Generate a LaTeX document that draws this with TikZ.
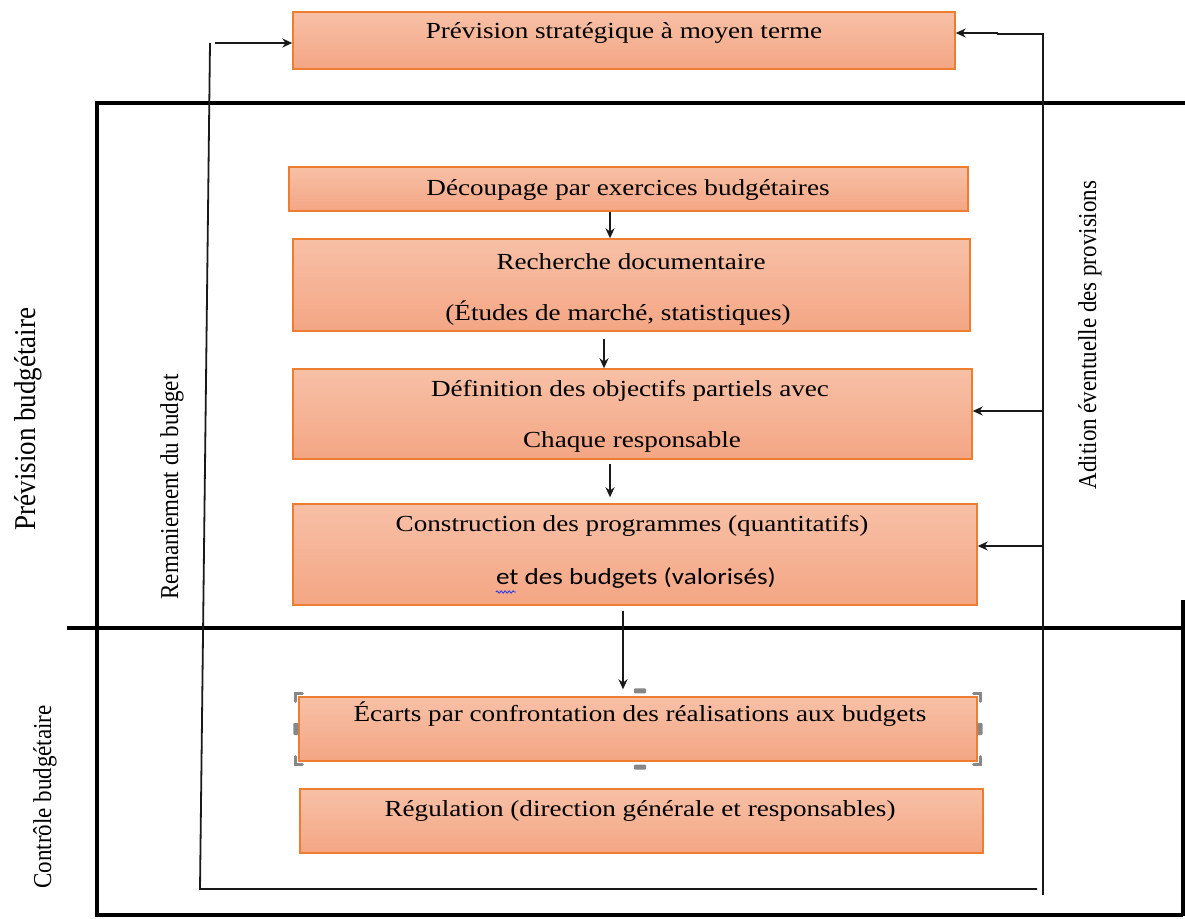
\documentclass[tikz,border=0pt]{standalone}
\usepackage{fontspec}
\setmainfont{Liberation Serif}
\newfontfamily\boxfont[FakeStretch=1.18]{Liberation Serif}
\newfontfamily\boxsans[FakeStretch=1.18]{Carlito}
\usetikzlibrary{arrows.meta,decorations.pathmorphing}
\definecolor{boxtop}{RGB}{247,192,166}
\definecolor{boxbot}{RGB}{244,166,132}
\definecolor{boxedge}{RGB}{237,125,49}
\definecolor{handlegray}{RGB}{135,135,135}
\definecolor{spellblue}{RGB}{40,60,230}

\begin{document}
\begin{tikzpicture}[x=1pt,y=-1pt,
  stagebox/.style={draw=boxedge, line width=1.4pt, top color=boxtop,
    bottom color=boxbot, inner sep=0pt},
  boxtext/.style={font=\boxfont\fontsize{23}{28}\selectfont, inner sep=0pt,
    anchor=base},
  sidetext/.style={font=\fontsize{23}{28}\selectfont, rotate=90, inner sep=0pt},
  frameline/.style={line width=4pt, black},
  link/.style={line width=1.8pt, black!90},
  flow/.style={link, -{Stealth[length=10pt,width=9pt]}},
  handle/.style={line width=3pt, handlegray, line cap=round},
  handlebar/.style={fill=handlegray, draw=none, rounded corners=1pt}
]
\useasboundingbox (0,0) rectangle (1185,918);

% frame of the two phases
\draw[frameline] (95,103) -- (1185,103);
\draw[frameline] (67,628) -- (1185,628);
\draw[frameline] (97,103) -- (97,916);
\draw[frameline] (95,915) -- (1183,915);
\draw[frameline] (1183,600) -- (1183,916);

% phase labels
\node[sidetext, font=\fontsize{27}{32}\selectfont] (lprev) at (28,419)
  {\scalebox{1}[1.12]{Prévision budgétaire}};
\node[sidetext] (lctrl) at (45,797) {\scalebox{1}[1.12]{Contrôle budgétaire}};
\node[sidetext] (lrem) at (172,487) {\scalebox{1}[1.12]{Remaniement du budget}};
\node[sidetext] (ladd) at (1090,335)
  {\scalebox{1}[1.12]{Adition éventuelle des provisions}};

% process steps
\node[stagebox, minimum width=662pt, minimum height=57pt] (top) at (624,40.5) {};
\node[boxtext] (topt) at (624,38) {Prévision stratégique à moyen terme};

\node[stagebox, minimum width=679pt, minimum height=44pt] (cut) at (628.5,189) {};
\node[boxtext] (cutt) at (628,195) {Découpage par exercices budgétaires};

\node[stagebox, minimum width=677pt, minimum height=92pt] (doc) at (631.5,285) {};
\node[boxtext] (doca) at (631,269) {Recherche documentaire};
\node[boxtext] (docb) at (618,320) {(Études de marché, statistiques)};

\node[stagebox, minimum width=679pt, minimum height=90pt] (goal) at (632.5,414) {};
\node[boxtext] (goala) at (630,396) {Définition des objectifs partiels avec};
\node[boxtext] (goalb) at (632,447) {Chaque responsable};

\node[stagebox, minimum width=684pt, minimum height=101pt] (prog) at (635,554.5) {};
\node[boxtext] (proga) at (632,531) {Construction des programmes (quantitatifs)};
\node[boxtext, font=\boxsans\fontsize{23}{28}\selectfont] (progb) at (636,584)
  {et des budgets (valorisés)};

\node[stagebox, minimum width=678pt, minimum height=64pt] (gap) at (638,729) {};
\node[boxtext] (gapt) at (640,721)
  {Écarts par confrontation des réalisations aux budgets};

\node[stagebox, minimum width=683pt, minimum height=64pt] (reg) at (641.5,821) {};
\node[boxtext] (regt) at (640,816)
  {Régulation (direction générale et responsables)};

% spelling mark under the first word
\draw[spellblue, line width=0.9pt, decorate,
  decoration={snake, amplitude=1.2pt, segment length=4pt}]
  ([yshift=-8pt]progb.base west) -- ++(20,0);

% selection handles around the gap box
\draw[handle] ([shift={(-3,5)}]gap.north west) -- ++(0,-8) -- ++(7,0);
\draw[handle] ([shift={(3,5)}]gap.north east) -- ++(0,-8) -- ++(-7,0);
\draw[handle] ([shift={(-3,-5)}]gap.south west) -- ++(0,8) -- ++(7,0);
\draw[handle] ([shift={(3,-5)}]gap.south east) -- ++(0,8) -- ++(-7,0);
\fill[handlebar] ([shift={(-6,-3)}]gap.north -| 640,0) rectangle ++(12,-5);
\fill[handlebar] ([shift={(-6,3)}]gap.south -| 640,0) rectangle ++(12,5);
\fill[handlebar] ([shift={(-5,-6)}]gap.west) rectangle ++(5,12);
\fill[handlebar] ([shift={(0,-6)}]gap.east) rectangle ++(5,12);

% flow between steps
\draw[flow] (cut.south -| 610,0) -- (doc.north -| 610,0);
\draw[flow] ([yshift=-7pt]doc.south -| 604,0) -- (goal.north -| 604,0);
\draw[flow] ([yshift=-4pt]goal.south -| 610,0) -- ([yshift=6pt]prog.north -| 610,0);
\draw[flow] ([yshift=-5pt]prog.south -| 623,0) -- ([yshift=7pt]gap.north -| 623,0);

% budget revision loop on the left
\coordinate (remtop) at (210,43);
\coordinate (rembot) at (200,889);
\draw[link] (1037,889) -- (rembot) -- (remtop);
\draw[flow] (215,43) -- (remtop -| top.west);

% provisions feedback on the right
\coordinate (addtop) at (1043,34);
\coordinate (addbot) at (1043,895);
\draw[link] (addbot) -- (addtop) -- (998,34) -- (998,33);
\draw[flow] (998,33) -- (top.east |- 998,33);
\draw[flow] (1043,411) -- (goal.east |- 1043,411);
\draw[flow] (1043,546) -- (prog.east |- 1043,546);
\end{tikzpicture}
\end{document}
